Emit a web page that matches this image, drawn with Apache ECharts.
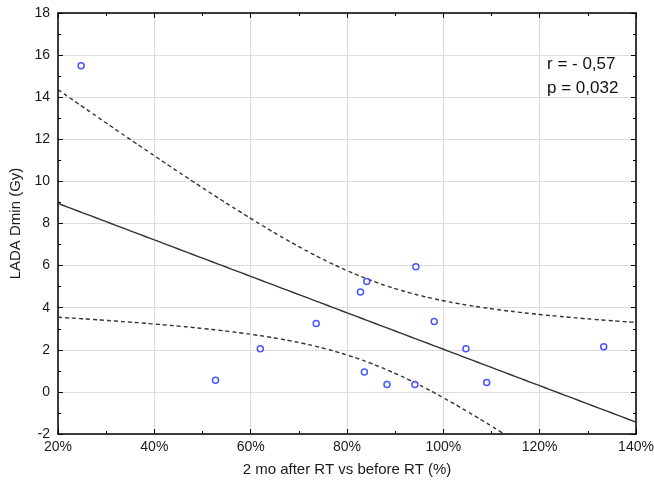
<!DOCTYPE html>
<html>
<head>
<meta charset="utf-8">
<script src="https://cdn.jsdelivr.net/npm/echarts@6/dist/echarts.min.js"></script>
<style>
  html, body { margin: 0; padding: 0; background: #fff; }
  #chart { width: 654px; height: 486px; }
</style>
</head>
<body>
<div id="chart"></div>
<script>
// measured points: change 2 mo after RT vs before RT (%) / LADA Dmin (Gy)
const xValues = [24.8, 52.7, 62.0, 73.6, 82.8, 84.1, 94.3, 83.6, 88.3, 94.1, 98.1, 104.7, 109.0, 133.3];
const yValues = [15.5, 0.55, 2.05, 3.25, 4.75, 5.25, 5.95, 0.95, 0.35, 0.35, 3.35, 2.05, 0.45, 2.15];
const statLines = ['r = - 0,57', 'p = 0,032'];
const xTitle = '2 mo after RT vs before RT (%)';
const yTitle = 'LADA Dmin (Gy)';

// linear fit + 95% confidence band of the mean
function fitLine(xs, ys) {
  const n = xs.length;
  const mx = xs.reduce((a, b) => a + b, 0) / n;
  const my = ys.reduce((a, b) => a + b, 0) / n;
  let sxx = 0, sxy = 0, syy = 0;
  for (let i = 0; i < n; i++) {
    sxx += (xs[i] - mx) * (xs[i] - mx);
    sxy += (xs[i] - mx) * (ys[i] - my);
    syy += (ys[i] - my) * (ys[i] - my);
  }
  const b = sxy / sxx;
  const a = my - b * mx;
  const s = Math.sqrt((syy - sxy * sxy / sxx) / (n - 2));
  const t = 2.179; // t(0.975, 12)
  const fit = [], upper = [], lower = [];
  for (let x = 20; x <= 140; x += 1) {
    const yh = a + b * x;
    const se = s * Math.sqrt(1 / n + (x - mx) * (x - mx) / sxx);
    fit.push([x, yh]);
    upper.push([x, yh + t * se]);
    lower.push([x, yh - t * se]);
  }
  return { fit, upper, lower };
}

const band = fitLine(xValues, yValues);
const points = xValues.map((x, i) => [x, yValues[i]]);

const chart = echarts.init(document.getElementById('chart'), null, { renderer: 'canvas' });

const frameLine = { show: true, onZero: false, lineStyle: { color: '#000', width: 1.5 } };
const tickStyle = { show: true, inside: true, length: 5, lineStyle: { color: '#000', width: 1 } };
const minorStyle = { show: true, splitNumber: 2, length: 3, lineStyle: { color: '#000', width: 1 } };
const gridLine = { show: true, lineStyle: { color: '#dcdcdc', width: 1.2 } };
const labelFont = { color: '#1a1a1a', fontSize: 14, fontFamily: 'Liberation Sans' };

const option = {
  animation: false,
  backgroundColor: '#fff',
  grid: { left: 58, right: 18, top: 13, bottom: 52, outerBoundsMode: 'none', containLabel: false },
  xAxis: [
    {
      type: 'value', min: 20, max: 140, interval: 20, position: 'bottom',
      name: xTitle, nameLocation: 'middle', nameGap: 28,
      nameTextStyle: { color: '#1a1a1a', fontSize: 15, fontFamily: 'Liberation Sans' },
      axisLine: frameLine, axisTick: tickStyle, minorTick: minorStyle,
      splitLine: gridLine,
      axisLabel: Object.assign({ formatter: '{value}%', margin: 6 }, labelFont)
    },
    {
      type: 'value', min: 20, max: 140, interval: 20, position: 'top',
      axisLine: frameLine, axisTick: tickStyle, minorTick: minorStyle,
      splitLine: { show: false }, axisLabel: { show: false }
    }
  ],
  yAxis: [
    {
      type: 'value', min: -2, max: 18, interval: 2, position: 'left',
      name: yTitle, nameLocation: 'middle', nameGap: 34, nameRotate: 90,
      nameTextStyle: { color: '#1a1a1a', fontSize: 15, fontFamily: 'Liberation Sans' },
      axisLine: frameLine, axisTick: tickStyle, minorTick: minorStyle,
      splitLine: gridLine,
      axisLabel: Object.assign({ margin: 8 }, labelFont)
    },
    {
      type: 'value', min: -2, max: 18, interval: 2, position: 'right',
      axisLine: frameLine, axisTick: tickStyle, minorTick: minorStyle,
      splitLine: { show: false }, axisLabel: { show: false }
    }
  ],
  graphic: [
    {
      type: 'text', left: 547, top: 52,
      style: {
        text: statLines.join('\n'), fill: '#111', lineHeight: 24,
        font: '17px "Liberation Sans"'
      }
    }
  ],
  series: [
    {
      type: 'line', data: band.fit, showSymbol: false, clip: true,
      lineStyle: { color: '#333', width: 1.4 }, z: 2
    },
    {
      type: 'line', data: band.upper, showSymbol: false, clip: true, smooth: true,
      lineStyle: { color: '#333', width: 1.4, type: [4, 3] }, z: 2
    },
    {
      type: 'line', data: band.lower, showSymbol: false, clip: true, smooth: true,
      lineStyle: { color: '#333', width: 1.4, type: [4, 3] }, z: 2
    },
    {
      type: 'scatter', data: points, symbol: 'circle', symbolSize: 6,
      itemStyle: { color: '#fff', borderColor: '#1a2cff', borderWidth: 1.5 }, z: 3
    }
  ]
};

chart.setOption(option);
</script>
</body>
</html>
